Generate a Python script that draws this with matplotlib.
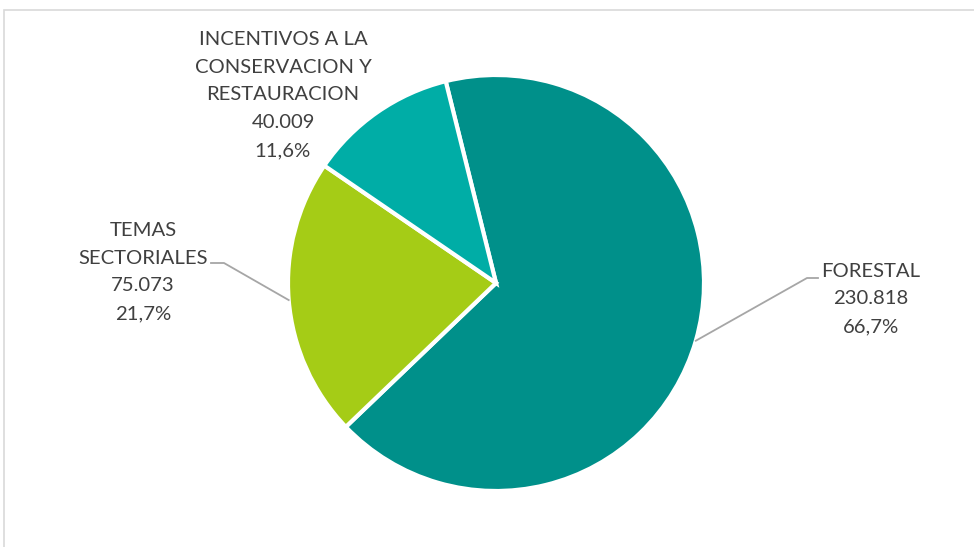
import matplotlib.pyplot as plt
import numpy as np
from matplotlib.patches import Rectangle

# data
labels = ['FORESTAL', 'TEMAS\nSECTORIALES', 'INCENTIVOS A LA\nCONSERVACION Y\nRESTAURACION']
values = [230818, 75073, 40009]
values_txt = ['230.818', '75.073', '40.009']
pct_txt = ['66,7%', '21,7%', '11,6%']
colors = ['#00908A', '#A5CC16', '#00ADA6']

W, H = 974, 547
fig = plt.figure(figsize=(W / 100, H / 100), dpi=100)
ax = fig.add_axes([0, 0, 1, 1])

# chart area border
ax.add_patch(Rectangle((4, -5), W + 10, H - 10 + 5, fill=False, edgecolor='#D9D9D9', lw=1.2))

cx, cy, r = 496, H - 283, 208
start = 104
wedges, _ = ax.pie(values, colors=colors, startangle=start, counterclock=False,
                   center=(cx, cy), radius=r, frame=True,
                   wedgeprops=dict(edgecolor='white', linewidth=3))
ax.set_xlim(0, W)
ax.set_ylim(0, H)
ax.set_aspect('equal')
ax.axis('off')

font = dict(family='Lato', size=14.6, color='#404040', ha='center', va='center', linespacing=1.78)

# label positions (px from top-left)
text_pos = [(871, 299), (143, 272), (283, 95)]
leaders = [[(818, 278), (807, 278)], [(211, 263), (224, 263)], None]

for i, w in enumerate(wedges):
    txt = labels[i] + '\n' + values_txt[i] + '\n' + pct_txt[i]
    tx, ty = text_pos[i]
    ax.text(tx, H - ty, txt, **font)
    if leaders[i]:
        mid = np.deg2rad((w.theta1 + w.theta2) / 2)
        ex, ey = cx + r * np.cos(mid), cy + r * np.sin(mid)
        pts = [(x, H - y) for x, y in leaders[i]] + [(ex, ey)]
        ax.plot([p[0] for p in pts], [p[1] for p in pts], color='#A6A6A6', lw=1.3)

fig.savefig('out.png', dpi=100)
